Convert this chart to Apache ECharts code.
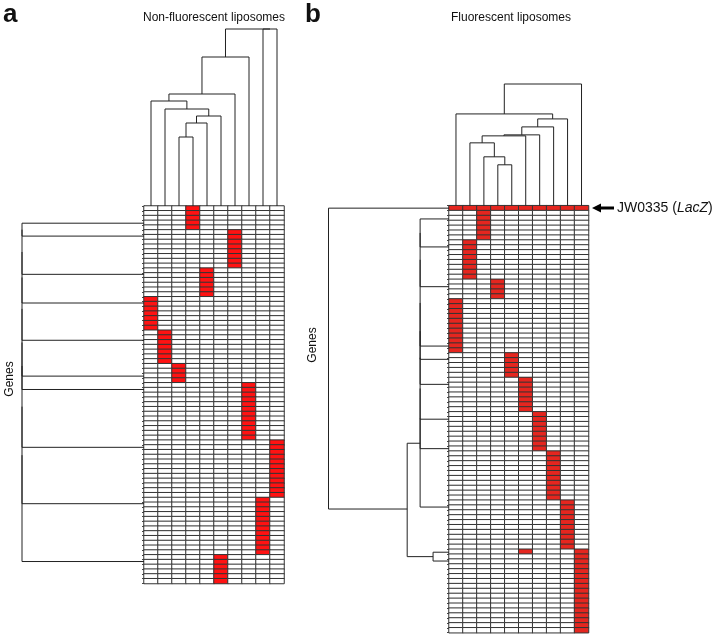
<!DOCTYPE html>
<html>
<head>
<meta charset="utf-8">
<script src="https://cdn.jsdelivr.net/npm/echarts@6/dist/echarts.min.js"></script>
<style>
html, body { margin: 0; padding: 0; background: #fff; }
#main { width: 713px; height: 637px; }
</style>
</head>
<body>
<div id="main"></div>
<script>
// liposome samples (heatmap columns)
var samples = ['1', '2', '3', '4', '5', '6', '7', '8', '9', '10'];

// a: gene blocks from top to bottom -> positive column, number of genes
var clusterColA = [3, 6, 4, 0, 1, 2, 7, 9, 8, 5];
var clusterSizeA = [5, 8, 6, 7, 7, 4, 12, 12, 12, 6];

// b: gene blocks -> positive columns, number of genes (first row is JW0335)
var clusterColsB = [[0, 1, 2, 3, 4, 5, 6, 7, 8, 9], [2], [1], [3], [0], [4], [5], [6], [7], [8], [5, 9], [9]];
var clusterSizeB = [1, 6, 8, 4, 11, 5, 7, 8, 10, 10, 1, 16];

// column dendrograms: [child, child, height], children >= 10 are earlier merges
var colMergesA = [[2, 3, 0.69], [10, 4, 0.83], [11, 5, 0.90], [1, 12, 0.97], [0, 13, 1.05],
                  [14, 6, 1.12], [15, 7, 1.49], [8, 9, 1.77], [16, 17, 1.77]];
var colMergesB = [[3, 4, 0.41], [2, 10, 0.49], [1, 11, 0.63], [12, 5, 0.70], [13, 6, 0.71],
                  [14, 7, 0.79], [15, 8, 0.87], [0, 16, 0.92], [17, 9, 1.22]];

// row dendrograms: leaf positions (gene rows) and merges [child, child, height, position]
var rowLeavesA = [3.6, 6.3, 14.3, 20.3, 28.1, 35.6, 38.4, 50.5, 62.3, 74.4];
var rowMergesA = [[0, 1, 1.22], [10, 2, 1.22], [11, 3, 1.22], [12, 4, 1.22], [13, 5, 1.22],
                  [14, 6, 1.22], [15, 7, 1.22], [16, 8, 1.22], [17, 9, 1.22]];
var rowLeavesB = [0.5, 2.7, 8.4, 16.5, 28.6, 31.3, 36.4, 43.5, 49.5, 61.4, 70.6, 72.4];
var rowMergesB = [[1, 2, 0.29], [12, 3, 0.29], [13, 4, 0.29], [14, 5, 0.29], [15, 6, 0.29],
                  [16, 7, 0.29], [17, 8, 0.29], [18, 9, 0.29, 48.4], [10, 11, 0.16],
                  [19, 20, 0.42, 61.8], [0, 21, 1.21]];

var FONT = '"Liberation Sans", Arial, sans-serif';

function buildCells(cols, sizes) {
  var cells = [], rows = [], r = 0;
  sizes.forEach(function (n, k) {
    var hit = Array.isArray(cols[k]) ? cols[k] : [cols[k]];
    for (var i = 0; i < n; i++, r++) {
      rows.push('g' + r);
      for (var c = 0; c < samples.length; c++) {
        cells.push([c, r, hit.indexOf(c) >= 0 ? 1 : 0]);
      }
    }
  });
  return { cells: cells, rows: rows };
}

function dendro(leaves, merges) {
  var pos = leaves.slice(), hgt = leaves.map(function () { return 0; }), segs = [];
  merges.forEach(function (m) {
    var a = m[0], b = m[1], h = m[2];
    segs.push([pos[a], hgt[a], pos[b], hgt[b], h]);
    pos.push(m[3] != null ? m[3] : (pos[a] + pos[b]) / 2);
    hgt.push(h);
  });
  return segs;
}

function dendroSeries(axis, segs, sideways) {
  return {
    type: 'custom', xAxisIndex: axis, yAxisIndex: axis, data: segs, silent: true, clip: false,
    renderItem: function (params, api) {
      var p1 = api.value(0), h1 = api.value(1), p2 = api.value(2), h2 = api.value(3), h = api.value(4);
      var pts = sideways ? [[h1, p1], [h, p1], [h, p2], [h2, p2]] : [[p1, h1], [p1, h], [p2, h], [p2, h2]];
      return {
        type: 'polyline',
        shape: { points: pts.map(function (q) { return api.coord(q); }) },
        style: { stroke: '#222', lineWidth: 1, fill: null }
      };
    }
  };
}

var A = buildCells(clusterColA, clusterSizeA);
var B = buildCells(clusterColsB, clusterSizeB);
var leafCols = samples.map(function (s, i) { return i; });

var hide = { show: false };
function catX(grid) {
  return { type: 'category', gridIndex: grid, data: samples, axisLine: hide, axisTick: hide, axisLabel: hide, splitLine: hide };
}
function catY(grid, rows) {
  return {
    type: 'category', gridIndex: grid, data: rows, inverse: true,
    axisLine: { show: true, lineStyle: { color: '#333', width: 1 } },
    axisTick: { show: true, length: 2, interval: 0, lineStyle: { color: '#444' } },
    axisLabel: hide, splitLine: hide
  };
}
function valAxis(grid, min, max, inverse) {
  return { type: 'value', gridIndex: grid, min: min, max: max, inverse: !!inverse, show: false };
}

var myChart = echarts.init(document.getElementById('main'));
var option = {
  animation: false,
  backgroundColor: '#fff',
  grid: [
    { left: 144, top: 206, width: 140, height: 377.5 },
    { left: 144, top: 29, width: 140, height: 177 },
    { left: 22, top: 206, width: 122, height: 377.5 },
    { left: 449, top: 205.7, width: 139.5, height: 427 },
    { left: 449, top: 84, width: 139.5, height: 121.7 },
    { left: 328.5, top: 205.7, width: 120.5, height: 427 }
  ],
  xAxis: [
    catX(0),
    valAxis(1, -0.5, 9.5),
    valAxis(2, 0, 1.22, true),
    catX(3),
    valAxis(4, -0.5, 9.5),
    valAxis(5, 0, 1.21, true)
  ],
  yAxis: [
    catY(0, A.rows),
    valAxis(1, 0, 1.77),
    valAxis(2, 0, A.rows.length, true),
    catY(3, B.rows),
    valAxis(4, 0, 1.22),
    valAxis(5, 0, B.rows.length, true)
  ],
  visualMap: [
    { type: 'piecewise', show: false, seriesIndex: 0, dimension: 2,
      pieces: [{ value: 0, color: '#ffffff' }, { value: 1, color: '#ff1212' }] },
    { type: 'piecewise', show: false, seriesIndex: 1, dimension: 2,
      pieces: [{ value: 0, color: '#ffffff' }, { value: 1, color: '#e5261f' }] }
  ],
  series: [
    { type: 'heatmap', xAxisIndex: 0, yAxisIndex: 0, data: A.cells, silent: true,
      itemStyle: { borderColor: '#333', borderWidth: 1 }, emphasis: { disabled: true } },
    { type: 'heatmap', xAxisIndex: 3, yAxisIndex: 3, data: B.cells, silent: true,
      itemStyle: { borderColor: '#333', borderWidth: 1 }, emphasis: { disabled: true } },
    dendroSeries(1, dendro(leafCols, colMergesA), false),
    dendroSeries(2, dendro(rowLeavesA, rowMergesA), true),
    dendroSeries(4, dendro(leafCols, colMergesB), false),
    dendroSeries(5, dendro(rowLeavesB, rowMergesB), true)
  ],
  graphic: [
    { type: 'text', x: 3, y: 2, style: { text: 'a', font: 'bold 26px ' + FONT, fill: '#111' } },
    { type: 'text', x: 305, y: 2, style: { text: 'b', font: 'bold 26px ' + FONT, fill: '#111' } },
    { type: 'text', x: 214, y: 18, style: { text: 'Non-fluorescent liposomes', font: '12px ' + FONT, fill: '#111', textAlign: 'center', textVerticalAlign: 'middle' } },
    { type: 'text', x: 511, y: 18, style: { text: 'Fluorescent liposomes', font: '12px ' + FONT, fill: '#111', textAlign: 'center', textVerticalAlign: 'middle' } },
    { type: 'text', x: 10, y: 379, rotation: Math.PI / 2, style: { text: 'Genes', font: '12px ' + FONT, fill: '#111', textAlign: 'center', textVerticalAlign: 'middle' } },
    { type: 'text', x: 313, y: 345, rotation: Math.PI / 2, style: { text: 'Genes', font: '12px ' + FONT, fill: '#111', textAlign: 'center', textVerticalAlign: 'middle' } },
    { type: 'polygon', shape: { points: [[592, 208], [601, 203.5], [601, 212.5]] }, style: { fill: '#000' } },
    { type: 'rect', shape: { x: 600, y: 206.5, width: 14, height: 3 }, style: { fill: '#000' } },
    { type: 'text', x: 617, y: 208, style: {
        text: 'JW0335 ({i|LacZ})', font: '14px ' + FONT, fill: '#111', textVerticalAlign: 'middle',
        rich: { i: { fontStyle: 'italic', fontSize: 14, fontFamily: FONT, fill: '#111' } } } }
  ]
};
myChart.setOption(option);
</script>
</body>
</html>
